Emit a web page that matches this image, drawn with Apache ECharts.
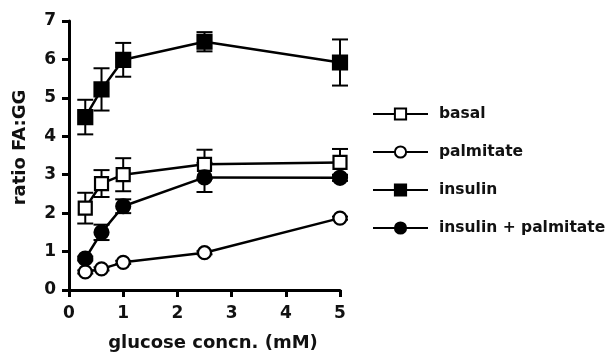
<!DOCTYPE html>
<html><head><meta charset="utf-8">
<script src="https://cdn.jsdelivr.net/npm/echarts@6/dist/echarts.min.js"></script>
<style>html,body{margin:0;padding:0;background:#fff}#c{width:609px;height:359px}</style>
</head><body><div id="c"></div>
<script>
const glucose = [0.3, 0.6, 1, 2.5, 5];
const seriesNames = ['basal', 'palmitate', 'insulin', 'insulin + palmitate'];
const basal = [2.13, 2.77, 3.0, 3.27, 3.32];
const basalErr = [0.4, 0.35, 0.43, 0.38, 0.35];
const palmitate = [0.47, 0.55, 0.72, 0.97, 1.87];
const palmitateErr = [0.04, 0.04, 0.04, 0.04, 0.04];
const insulin = [4.5, 5.22, 5.99, 6.46, 5.92];
const insulinErr = [0.45, 0.55, 0.44, 0.25, 0.6];
const insPalm = [0.82, 1.5, 2.18, 2.93, 2.92];
const insPalmErr = [0.05, 0.2, 0.18, 0.38, 0.08];
const xTicks = [0, 1, 2, 3, 4, 5];
const yTicks = [0, 1, 2, 3, 4, 5, 6, 7];
const xTitle = 'glucose concn. (mM)';
const yTitle = 'ratio FA:GG';

const FONT = 'DejaVu Sans';
const INK = '#111';

function pts(vals) { return glucose.map((g, i) => [g, vals[i]]); }
function errs(vals, e) { return glucose.map((g, i) => [g, vals[i] - e[i], vals[i] + e[i]]); }

function errRender(params, api) {
  const x = api.value(0), lo = api.value(1), hi = api.value(2);
  const a = api.coord([x, hi]), b = api.coord([x, lo]);
  const w = 8;
  const st = { stroke: '#000', lineWidth: 2 };
  return { type: 'group', children: [
    { type: 'line', shape: { x1: a[0], y1: a[1], x2: b[0], y2: b[1] }, style: st },
    { type: 'line', shape: { x1: a[0] - w, y1: a[1], x2: a[0] + w, y2: a[1] }, style: st },
    { type: 'line', shape: { x1: b[0] - w, y1: b[1], x2: b[0] + w, y2: b[1] }, style: st }
  ]};
}

const styles = {
  'basal': { symbol: 'rect', fill: '#fff', size: 13 },
  'palmitate': { symbol: 'circle', fill: '#fff', size: 13 },
  'insulin': { symbol: 'rect', fill: '#000', size: 14 },
  'insulin + palmitate': { symbol: 'circle', fill: '#000', size: 14 }
};
const dataMap = {
  'basal': [basal, basalErr],
  'palmitate': [palmitate, palmitateErr],
  'insulin': [insulin, insulinErr],
  'insulin + palmitate': [insPalm, insPalmErr]
};

const series = [];
seriesNames.forEach(n => {
  series.push({
    name: n + ' err', type: 'custom', renderItem: errRender,
    data: errs(dataMap[n][0], dataMap[n][1]), z: 1, clip: false, silent: true
  });
});
seriesNames.forEach(n => {
  const s = styles[n];
  series.push({
    name: n, type: 'line', data: pts(dataMap[n][0]),
    symbol: s.symbol, symbolSize: s.size, showAllSymbol: true,
    lineStyle: { color: '#000', width: 2.5 },
    itemStyle: { color: s.fill, borderColor: '#000', borderWidth: 2.2 },
    z: 3, clip: false, animation: false
  });
});

const chart = echarts.init(document.getElementById('c'), null, { renderer: 'canvas' });
chart.setOption({
  animation: false,
  backgroundColor: '#fff',
  grid: { left: 69, right: 269, top: 21, bottom: 69, containLabel: false, outerBoundsMode: 'none' },
  xAxis: {
    type: 'value', min: xTicks[0], max: xTicks[xTicks.length - 1], interval: 1,
    name: xTitle, nameLocation: 'middle', nameGap: 44,
    nameTextStyle: { fontFamily: FONT, fontWeight: 'bold', fontSize: 18, color: INK, padding: [0, 0, 0, 17] },
    axisLine: { lineStyle: { color: '#000', width: 3 } },
    axisTick: { length: 7, lineStyle: { color: '#000', width: 3 } },
    axisLabel: { fontFamily: FONT, fontWeight: 'bold', fontSize: 17, color: INK, margin: 15 },
    splitLine: { show: false }
  },
  yAxis: {
    type: 'value', min: yTicks[0], max: yTicks[yTicks.length - 1], interval: 1,
    name: yTitle, nameLocation: 'middle', nameGap: 40, nameRotate: 90,
    nameTextStyle: { fontFamily: FONT, fontWeight: 'bold', fontSize: 18, color: INK, padding: [0, 0, 0, 16] },
    axisLine: { lineStyle: { color: '#000', width: 3 } },
    axisTick: { length: 7, lineStyle: { color: '#000', width: 3 } },
    axisLabel: { fontFamily: FONT, fontWeight: 'bold', fontSize: 17, color: INK, margin: 13 },
    splitLine: { show: false }
  },
  legend: {
    data: seriesNames, orient: 'vertical', left: 367, top: 101,
    itemWidth: 55, itemHeight: 14, itemGap: 22,
    textStyle: { fontFamily: FONT, fontWeight: 'bold', fontSize: 15.5, color: INK, padding: [0, 0, 0, 6] },
    selectedMode: false
  },
  series: series
});
</script>
</body></html>
